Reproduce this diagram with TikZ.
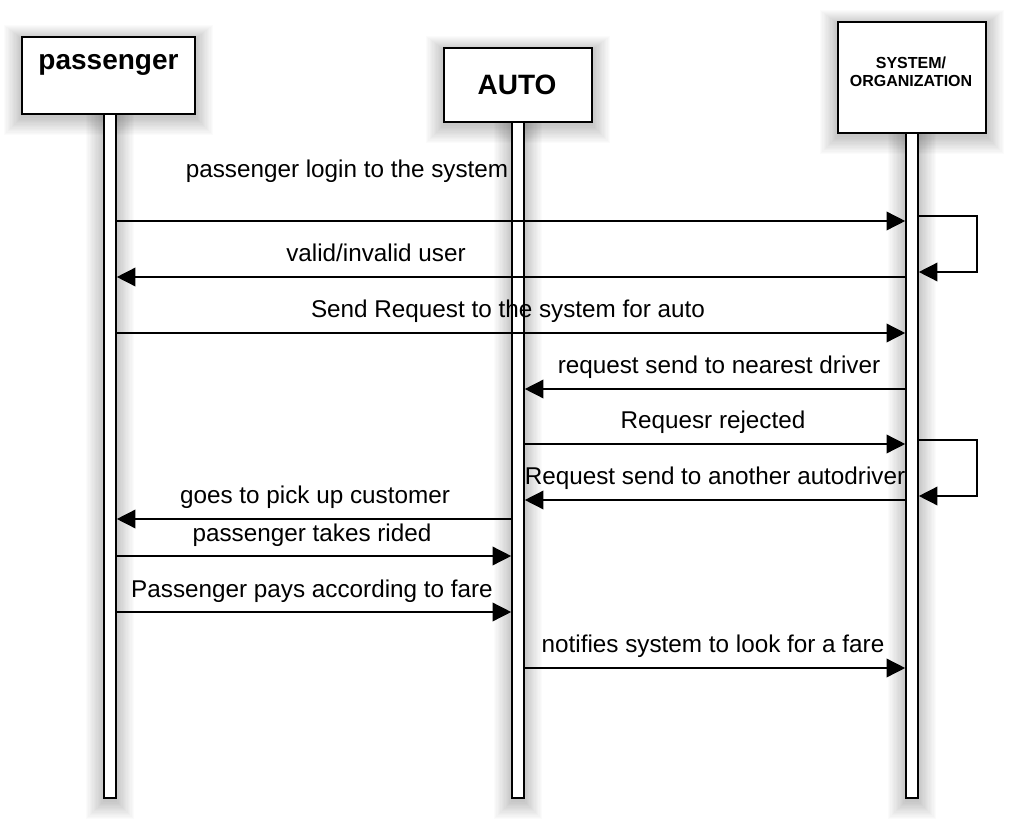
\documentclass[tikz,border=0pt]{standalone}
\usepackage{fontspec}
\setmainfont{Liberation Sans}
\usetikzlibrary{arrows.meta,fit}
\newcommand\softshade[4]{%
  \foreach \k in {1,...,14}{%
    \fill[black,opacity=0.014] (#1-\k*1.3,#2-\k*1.0+2) rectangle (#3+\k*1.3,#4+\k*1.3+3);}}
\tikzset{
  box/.style={draw=black,fill=white,line width=1.4pt,inner sep=0pt},
  life/.style={draw=black,fill=white,line width=1.2pt,inner sep=0pt},
  msg/.style={line width=1.1pt,-{Triangle[length=14pt,width=14pt]}},
  lbl/.style={font=\fontsize{18.2}{22}\selectfont,anchor=base,inner sep=0pt},
  hdr/.style={font=\fontsize{21}{25}\selectfont\bfseries,anchor=base,inner sep=0pt},
  hdrs/.style={font=\fontsize{12}{14}\selectfont\bfseries,anchor=base,inner sep=0pt},
}
\begin{document}
\begin{tikzpicture}[x=0.75pt,y=-0.75pt]
\useasboundingbox[fill=white] (0,0) rectangle (1010,820);
% shadows
\softshade{22}{37}{195}{114}
\softshade{444}{48}{592}{122}
\softshade{838}{22}{986}{133}
\softshade{104}{114}{116}{798}
\softshade{512}{122}{524}{798}
\softshade{906}{133}{918}{798}
% heads
\node[box,fit={(22,37)(195,114)}] (pbox) {};
\node[box,fit={(444,48)(592,122)}] (abox) {};
\node[box,fit={(838,22)(986,133)}] (sbox) {};
\node[hdr] (ptxt) at (108.5,70) {passenger};
\node[hdr] (atxt) at (517,95) {AUTO};
\node[hdrs] (stxt1) at (911,69) {SYSTEM/};
\node[hdrs] (stxt2) at (911,87) {ORGANIZATION};
% lifelines
\node[life,fit={(104,114)(116,798)}] (pl) {};
\node[life,fit={(512,122)(524,798)}] (al) {};
\node[life,fit={(906,133)(918,798)}] (sl) {};
% messages
\draw[msg] (pl.east|-0,221) -- (sl.west|-0,221);
\node[lbl] (l1) at (347,178) {passenger login to the system};
\draw[msg] (sl.east|-0,216) -- ++(58,0) |- (sl.east|-0,272);
\draw[msg] (sl.west|-0,277) -- (pl.east|-0,277);
\node[lbl] (l2) at (376,261) {valid/invalid user};
\draw[msg] (pl.east|-0,333) -- (sl.west|-0,333);
\node[lbl] (l3) at (508,317) {Send Request to the system for auto};
\draw[msg] (sl.west|-0,389) -- (al.east|-0,389);
\node[lbl] (l4) at (719,373) {request send to nearest driver};
\draw[msg] (al.east|-0,444) -- (sl.west|-0,444);
\node[lbl] (l5) at (713,428) {Requesr rejected};
\draw[msg] (sl.east|-0,440) -- ++(58,0) |- (sl.east|-0,496);
\draw[msg] (sl.west|-0,500) -- (al.east|-0,500);
\node[lbl] (l6) at (715,484) {Request send to another autodriver};
\draw[msg] (al.west|-0,519) -- (pl.east|-0,519);
\node[lbl] (l7) at (315,503) {goes to pick up customer};
\draw[msg] (pl.east|-0,556) -- (al.west|-0,556);
\node[lbl] (l8) at (312,541) {passenger takes rided};
\draw[msg] (pl.east|-0,612) -- (al.west|-0,612);
\node[lbl] (l9) at (312,597) {Passenger pays according to fare};
\draw[msg] (al.east|-0,668) -- (sl.west|-0,668);
\node[lbl] (l10) at (713,652) {notifies system to look for a fare};
\end{tikzpicture}
\end{document}
